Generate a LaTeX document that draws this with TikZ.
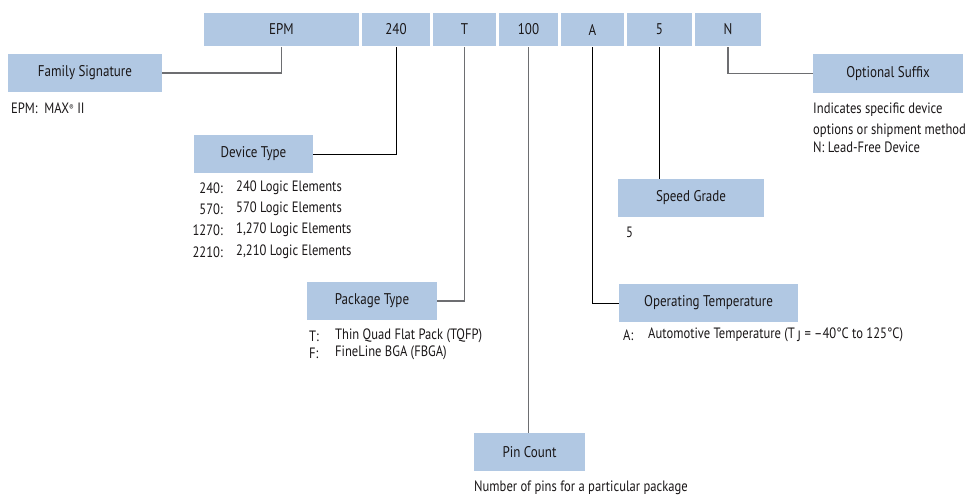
\documentclass[tikz,border=0pt]{standalone}
\usepackage{fontspec}
\setmainfont{PT Sans}[FakeStretch=0.84]
\definecolor{boxblue}{HTML}{B1C8E3}
\definecolor{ink}{HTML}{1A1718}
\definecolor{linegray}{HTML}{6D6E71}
\begin{document}
\begin{tikzpicture}[x=1pt,y=-1pt,
  cell/.style={fill=boxblue, draw=white, line width=1.2pt, minimum height=34pt, inner sep=0pt, font=\fontsize{15.5}{18}\selectfont, text=ink},
  lbox/.style={fill=boxblue, minimum height=38pt, inner sep=0pt, font=\fontsize{15.5}{18}\selectfont, text=ink},
  note/.style={inner sep=0pt, font=\fontsize{15}{17}\selectfont, text=ink},
  conn/.style={draw=linegray, line width=1.2pt},
  connk/.style={draw=black, line width=1pt}]
\useasboundingbox (0,0) rectangle (968,495);
% code bar
\node[cell, minimum width=157pt] (cEPM) at (281.5,29.5) {EPM};
\node[cell, minimum width=70pt] (c240) at (396,29.5) {240};
\node[cell, minimum width=65pt] (cT) at (464.5,29.5) {T};
\node[cell, minimum width=61pt] (c100) at (528.5,29.5) {100};
\node[cell, minimum width=65pt] (cA) at (592.5,29.5) {A};
\node[cell, minimum width=67pt] (c5) at (659.5,29.5) {5};
\node[cell, minimum width=68pt] (cN) at (728,29.5) {N};
% label boxes
\node[lbox, minimum width=154pt] (fam) at (85,73) {Family Signature};
\node[lbox, minimum width=119pt] (dev) at (253.5,154) {Device Type};
\node[lbox, minimum width=130pt] (pkg) at (372,301) {Package Type};
\node[lbox, minimum width=111pt] (pin) at (529.5,452) {Pin Count};
\node[lbox, minimum width=179pt] (op) at (708.5,303) {Operating Temperature};
\node[lbox, minimum width=146pt] (spd) at (691,198) {Speed Grade};
\node[lbox, minimum width=150pt] (opt) at (888,73.5) {Optional Suffix};
% connectors
\draw[conn] (fam.east) -| (cEPM.south);
\draw[connk] (dev.east) -| (c240.south);
\draw[conn] (pkg.east) -| (cT.south);
\draw[conn] (c100.south) -- (c100.south |- pin.north);
\draw[connk] (op.west) -| (cA.south);
\draw[connk] (c5.south) -- (c5.south |- spd.north);
\draw[conn] (opt.west) -| (cN.south);
% notes
\node[note, anchor=west] (nfam) at (11,108) {EPM:\ \ MAX{\fontsize{8}{8}\selectfont\raisebox{0.6ex}{®}} II};
\node[note, anchor=east] (d1k) at (223,188) {240:};
\node[note, anchor=west] (d1v) at (236,188) {240 Logic Elements};
\node[note, anchor=east] (d2k) at (223,209) {570:};
\node[note, anchor=west] (d2v) at (236,209) {570 Logic Elements};
\node[note, anchor=east] (d3k) at (223,230) {1270:};
\node[note, anchor=west] (d3v) at (236,230) {1,270 Logic Elements};
\node[note, anchor=east] (d4k) at (223,252) {2210:};
\node[note, anchor=west] (d4v) at (236,252) {2,210 Logic Elements};
\node[note, anchor=west] (p1k) at (309,336) {T:};
\node[note, anchor=west] (p1v) at (335,336) {Thin Quad Flat Pack (TQFP)};
\node[note, anchor=west] (p2k) at (309,353) {F:};
\node[note, anchor=west] (p2v) at (335,353) {FineLine BGA (FBGA)};
\node[note, anchor=west] (nspd) at (626,232) {5};
\node[note, anchor=west] (opk) at (623,335) {A:};
\node[note, anchor=west] (opv) at (648,335) {Automotive Temperature (T\,\raisebox{-0.35ex}{J} = –40°C to 125°C)};
\node[note, anchor=west] (o1) at (813,110) {Indicates specific device};
\node[note, anchor=west] (o2) at (813,131) {options or shipment method};
\node[note, anchor=west] (o3) at (813,147) {N: Lead-Free Device};
\node[note, anchor=west] (npin) at (474,488) {Number of pins for a particular package};
\end{tikzpicture}
\end{document}
